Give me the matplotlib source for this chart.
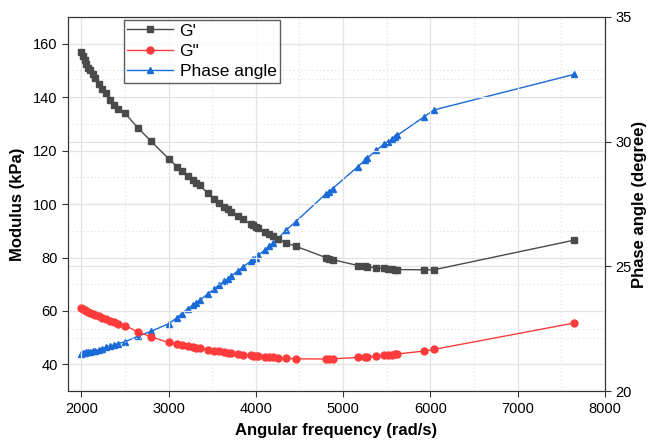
import matplotlib
matplotlib.use('Agg')
from matplotlib import pyplot as plt
from matplotlib.ticker import MultipleLocator

plt.rcParams['font.family'] = ['Liberation Sans', 'DejaVu Sans']

# Angular frequency (rad/s)
freq = [2000, 2020, 2040, 2060, 2080, 2100, 2130, 2160, 2200, 2240,
        2280, 2330, 2380, 2420, 2500, 2650, 2800, 3000, 3100, 3150,
        3220, 3280, 3320, 3360, 3450, 3520, 3580, 3640, 3680, 3720,
        3800, 3850, 3940, 3970, 4000, 4030, 4100, 4150, 4200, 4250,
        4345, 4460, 4800, 4840, 4880, 5170, 5250, 5280, 5380, 5470,
        5520, 5560, 5600, 5620, 5930, 6040, 7650]

# storage modulus G' (kPa)
g_storage = [157, 155.5, 154, 152.5, 151, 150, 148.5, 147, 145, 143,
             141.5, 139, 137, 135.5, 134, 128.5, 123.5, 117, 114, 112.5,
             110.5, 109, 108, 107, 104, 102, 100.5, 99, 98, 97,
             95.5, 94.5, 92.5, 92, 91.5, 91, 89.5, 88.8, 88, 87,
             85.5, 84.2, 80, 79.5, 79.2, 77, 76.7, 76.5, 76.2, 75.9,
             75.8, 75.6, 75.5, 75.5, 75.4, 75.4, 86.5]

# loss modulus G'' (kPa)
g_loss = [61, 60.6, 60.3, 60, 59.7, 59.4, 59, 58.6, 58, 57.5,
          57, 56.4, 55.8, 55.3, 54.5, 52.2, 50.3, 48.2, 47.5, 47.2,
          46.8, 46.4, 46.2, 46, 45.5, 45.2, 44.9, 44.6, 44.4, 44.2,
          43.9, 43.7, 43.4, 43.3, 43.2, 43.1, 42.9, 42.8, 42.7, 42.5,
          42.3, 42.1, 42.0, 42.0, 42.1, 42.6, 42.8, 42.9, 43.1, 43.4,
          43.5, 43.6, 43.8, 43.9, 45.0, 45.6, 55.5]

# phase angle (degree)
phase = [21.5, 21.52, 21.53, 21.55, 21.57, 21.58, 21.6, 21.62, 21.66, 21.7,
         21.75, 21.8, 21.86, 21.9, 21.98, 22.2, 22.4, 22.7, 22.95, 23.1,
         23.3, 23.45, 23.55, 23.65, 23.9, 24.08, 24.25, 24.4, 24.5, 24.62,
         24.83, 24.97, 25.2, 25.28, 25.35, 25.45, 25.65, 25.8, 25.95, 26.1,
         26.45, 26.8, 27.9, 28.0, 28.12, 29.0, 29.25, 29.35, 29.65, 29.9,
         30.0, 30.1, 30.2, 30.25, 31.0, 31.27, 32.7]

fig = plt.figure(figsize=(6.49, 4.46), dpi=100)
ax = fig.add_axes([0.105, 0.123, 0.827, 0.839])
ax2 = ax.twinx()

# put the left axes on top so the legend and the moduli sit above everything
ax.set_zorder(ax2.get_zorder() + 1)
ax.patch.set_visible(False)

grid_major = dict(color='#e3e3e3', linewidth=0.9, linestyle='-')
grid_minor = dict(color='#e3e3e3', linewidth=0.9, linestyle=(0, (1, 2)))

ax2.plot(freq, phase, color='#1a6ad8', marker='^', markersize=5, linewidth=1, zorder=3)
ax2.set_ylim(20, 35)
ax2.yaxis.set_major_locator(MultipleLocator(5))
ax2.yaxis.set_minor_locator(MultipleLocator(2.5))
ax2.grid(True, which='major', axis='y', **grid_major)
ax2.grid(True, which='minor', axis='y', **grid_minor)
ax2.set_axisbelow(True)

ax.plot(freq, g_storage, color='#4a4a4a', marker='s', markersize=4.5, linewidth=1, label="G'")
ax.plot(freq, g_loss, color='#ff3b3b', marker='o', markersize=5, linewidth=1, label='G"')
ax.plot([], [], color='#1a6ad8', marker='^', markersize=5, linewidth=1, label='Phase angle')

ax.set_xlim(1850, 8000)
ax.set_ylim(30, 170)
ax.xaxis.set_major_locator(MultipleLocator(1000))
ax.xaxis.set_minor_locator(MultipleLocator(500))
ax.yaxis.set_major_locator(MultipleLocator(20))
ax.yaxis.set_minor_locator(MultipleLocator(10))
ax.set_yticks(range(40, 161, 20))
ax.grid(True, which='major', **grid_major)
ax.grid(True, which='minor', **grid_minor)

#Labels
ax.set_xlabel('Angular frequency (rad/s)', fontsize=12, fontweight='bold', labelpad=5)
ax.set_ylabel('Modulus (kPa)', fontsize=12, fontweight='bold', labelpad=6)
ax2.set_ylabel('Phase angle (degree)', fontsize=12, fontweight='bold', labelpad=0)

for a in (ax, ax2):
    a.tick_params(axis='both', which='major', labelsize=10.5, direction='out', length=4, color='#333333')
    a.tick_params(axis='both', which='minor', length=0)
    for s in a.spines.values():
        s.set_color('#333333')

leg = ax.legend(loc='upper left', bbox_to_anchor=(0.104, 0.992), fontsize=12.5, frameon=True,
                fancybox=False, edgecolor='#333333', borderpad=0.2, labelspacing=0.3,
                handlelength=2.6, handletextpad=0.4, borderaxespad=0)
leg.get_frame().set_linewidth(1)

fig.savefig('out.png', dpi=100)
